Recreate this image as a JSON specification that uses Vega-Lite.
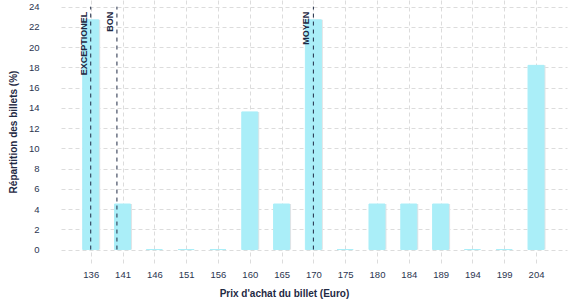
{
  "$schema": "https://vega.github.io/schema/vega-lite/v6.json",
  "autosize": {"type": "none"},
  "width": 506,
  "height": 263,
  "padding": {"left": 61, "top": 0, "right": 10, "bottom": 37},
  "background": "white",
  "config": {
    "view": {"stroke": null},
    "font": "Liberation Sans",
    "axis": {
      "gridColor": "#dcdcdc",
      "gridDash": [4, 3],
      "gridWidth": 1,
      "domain": false,
      "ticks": false,
      "labelOverlap": false,
      "labelColor": "#2b3550",
      "labelFontSize": 9.5,
      "titleColor": "#1f2a44",
      "titleFontSize": 10,
      "titleFontWeight": "bold"
    }
  },
  "datasets": {
    "bars": [
      {"prix": "136", "pos": 136.0, "pct": 22.7},
      {"prix": "141", "pos": 140.857, "pct": 4.5},
      {"prix": "146", "pos": 145.714, "pct": 0},
      {"prix": "151", "pos": 150.571, "pct": 0},
      {"prix": "156", "pos": 155.429, "pct": 0},
      {"prix": "160", "pos": 160.286, "pct": 13.6},
      {"prix": "165", "pos": 165.143, "pct": 4.5},
      {"prix": "170", "pos": 170.0, "pct": 22.7},
      {"prix": "175", "pos": 174.857, "pct": 0},
      {"prix": "180", "pos": 179.714, "pct": 4.5},
      {"prix": "184", "pos": 184.571, "pct": 4.5},
      {"prix": "189", "pos": 189.429, "pct": 4.5},
      {"prix": "194", "pos": 194.286, "pct": 0},
      {"prix": "199", "pos": 199.143, "pct": 0},
      {"prix": "204", "pos": 204.0, "pct": 18.2}
    ],
    "seuils": [
      {"label": "EXCEPTIONEL", "prix": 136},
      {"label": "BON", "prix": 140},
      {"label": "MOYEN", "prix": 170}
    ]
  },
  "layer": [
    {
      "data": {"name": "bars"},
      "mark": {"type": "bar", "width": 16, "color": "#e2e4e6", "xOffset": 1.5},
      "encoding": {
        "x": {
          "field": "pos",
          "type": "quantitative",
          "scale": {"domain": [131.46, 208.73], "nice": false, "zero": false, "padding": 0},
          "axis": {
            "title": "Prix d'achat du billet (Euro)",
            "values": [136, 140.857, 145.714, 150.571, 155.429, 160.286, 165.143, 170, 174.857, 179.714, 184.571, 189.429, 194.286, 199.143, 204],
            "tickCount": 40,
            "labelOverlap": false,
            "labelExpr": "['136','141','146','151','156','160','165','170','175','180','184','189','194','199','204'][round((datum.value-136)*14/68)]",
            "labelPadding": 6,
            "titlePadding": 10,
            "titleX": 223,
            "labelFlush": false
          }
        },
        "y": {
          "field": "pct",
          "type": "quantitative",
          "scale": {"domain": [-1.33, 24.66], "nice": false, "zero": false, "padding": 0},
          "axis": {
            "title": "Répartition des billets (%)",
            "values": [0, 2, 4, 6, 8, 10, 12, 14, 16, 18, 20, 22, 24],
            "format": "d",
            "tickCount": 40,
            "labelOverlap": false,
            "labelPadding": 22,
            "titlePadding": 10
          }
        }
      }
    },
    {
      "data": {"name": "bars"},
      "mark": {"type": "bar", "width": 16, "color": "#aaeef8", "stroke": "#aaeef8", "strokeWidth": 1},
      "encoding": {
        "x": {"field": "pos", "type": "quantitative"},
        "y": {"field": "pct", "type": "quantitative"}
      }
    },
    {
      "data": {"name": "seuils"},
      "mark": {"type": "rule", "color": "#1f2a44", "strokeDash": [4, 4], "strokeWidth": 1},
      "encoding": {
        "x": {"field": "prix", "type": "quantitative"},
        "y": {"datum": 0},
        "y2": {"datum": 24}
      }
    },
    {
      "data": {"name": "seuils"},
      "mark": {"type": "text", "angle": 270, "align": "right", "baseline": "alphabetic", "dx": -5, "dy": -4, "fontSize": 9, "fontWeight": "bold", "color": "#1f2a44"},
      "encoding": {
        "x": {"field": "prix", "type": "quantitative"},
        "y": {"datum": 24},
        "text": {"field": "label"}
      }
    }
  ]
}
